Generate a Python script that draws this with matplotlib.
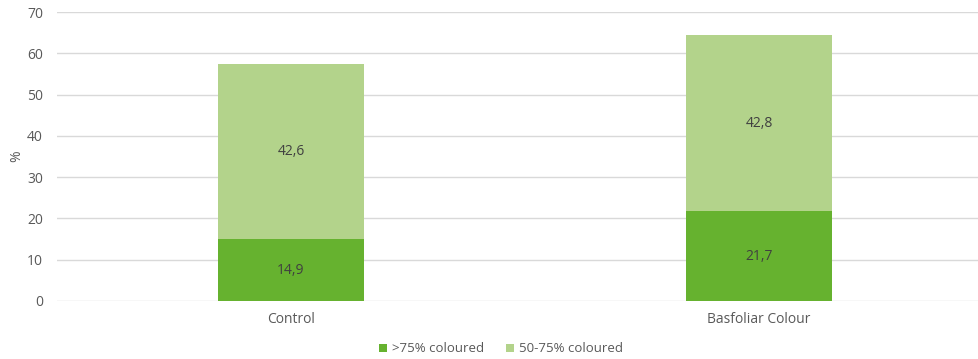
import matplotlib.pyplot as plt

categories = ['Control', 'Basfoliar Colour']
over_75 = [14.9, 21.7]
between_50_75 = [42.6, 42.8]
series_names = ['>75% coloured', '50-75% coloured']

dark_green = '#66b22f'
light_green = '#b3d38b'
grey = '#595959'

plt.rcParams['font.family'] = ['Open Sans', 'DejaVu Sans']

W, H = 979, 359
fig = plt.figure(figsize=(W / 100, H / 100), dpi=100)
# axes runs from 57px to ~993px so category centres land where the reference has them
ax = fig.add_axes([57 / W, (H - 301) / H, 936 / W, 289 / H])

x = list(range(len(categories)))
bw = 0.312
b1 = ax.bar(x, over_75, width=bw, color=dark_green, label=series_names[0], zorder=3)
b2 = ax.bar(x, between_50_75, width=bw, bottom=over_75, color=light_green,
            label=series_names[1], zorder=3)

for i in x:
    ax.text(i, over_75[i] / 2, f'{over_75[i]:.1f}'.replace('.', ','),
            ha='center', va='center', fontsize=10, color='#404040', zorder=4)
    ax.text(i, over_75[i] + between_50_75[i] / 2,
            f'{between_50_75[i]:.1f}'.replace('.', ','),
            ha='center', va='center', fontsize=10, color='#404040', zorder=4)

ax.set_xlim(-0.5, 1.5)
ax.set_ylim(0, 70)
ax.set_yticks(range(0, 71, 10))
ax.set_xticks(x)
ax.set_xticklabels(categories)
ax.grid(axis='y', color='#d9d9d9', linewidth=1, zorder=0)
for s in ax.spines.values():
    s.set_visible(False)
ax.tick_params(axis='both', length=0, labelsize=10, colors=grey)
ax.tick_params(axis='x', pad=8)
ax.tick_params(axis='y', pad=10)
fig.text(17 / W, 1 - 156 / H, '%', rotation=90, ha='center', va='center',
         fontsize=10, color=grey)

fig.legend(handles=[b1, b2], labels=series_names, loc='center',
           bbox_to_anchor=(501 / W, (H - 349) / H), ncol=2, frameon=False,
           fontsize=9.5, labelcolor=grey, handlelength=0.6, handleheight=0.6,
           handletextpad=0.4, columnspacing=1.6)

fig.savefig('out.png', dpi=100)
